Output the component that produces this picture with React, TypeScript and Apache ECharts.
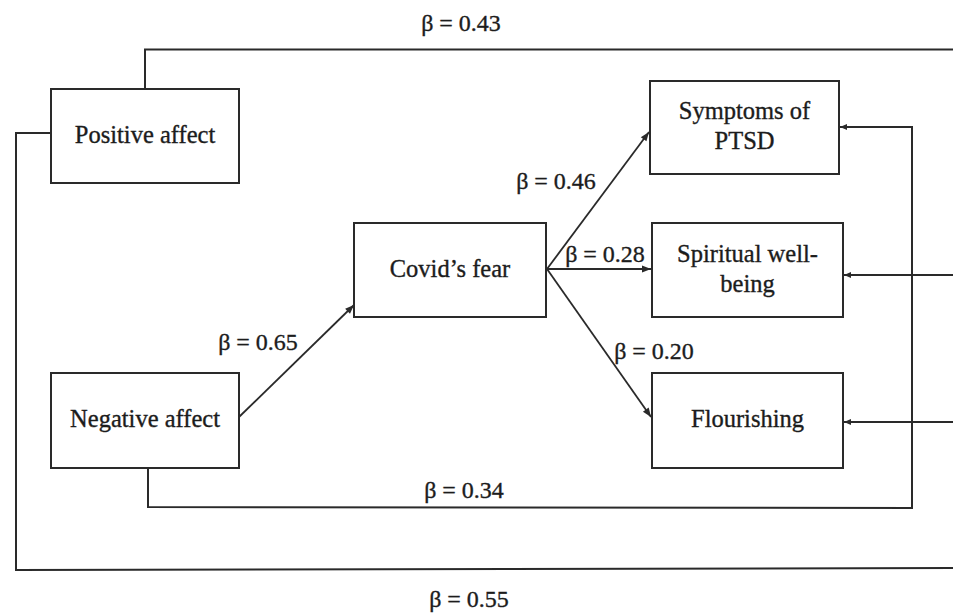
import React, { useEffect, useRef } from "react";
import * as echarts from "echarts";

// Node labels (the variables of the path model)
const nodeLabels = [
  "Positive affect",
  "Negative affect",
  "Covid\u2019s fear",
  "Symptoms of\nPTSD",
  "Spiritual well-\nbeing",
  "Flourishing",
];
// Standardised path coefficients
const betaValues = ["0.43", "0.55", "0.65", "0.46", "0.28", "0.20", "0.34"];

// Layout (positions only)
const boxes: [number, number, number, number][] = [
  [51, 89, 188, 94],
  [51, 373, 188, 95],
  [354, 223, 192, 94],
  [650, 81, 189, 93],
  [652, 223, 191, 94],
  [652, 373, 191, 95],
];
const betaPos: [number, number][] = [
  [461, 23],
  [469, 599],
  [258, 342],
  [556, 181],
  [605, 254],
  [654, 351],
  [464, 490],
];

const INK = "#2a2a2a";
const FONT = "Liberation Serif";

function arrowHead(x1: number, y1: number, x2: number, y2: number, len = 9, half = 3.5) {
  const dx = x2 - x1;
  const dy = y2 - y1;
  const d = Math.sqrt(dx * dx + dy * dy);
  const ux = dx / d;
  const uy = dy / d;
  const bx = x2 - ux * len;
  const by = y2 - uy * len;
  return {
    type: "polygon",
    shape: {
      points: [
        [x2, y2],
        [bx - uy * half, by + ux * half],
        [bx + uy * half, by - ux * half],
      ],
    },
    style: { fill: INK },
  };
}

export default function App() {
  const ref = useRef<HTMLDivElement>(null);
  useEffect(() => {
    if (!ref.current) return;
    const chart = echarts.init(ref.current, null, { renderer: "svg" });
    const els: any[] = [];

    boxes.forEach((b, i) => {
      els.push({
        type: "rect",
        shape: { x: b[0], y: b[1], width: b[2], height: b[3] },
        style: { fill: "#fff", stroke: INK, lineWidth: 2 },
      });
      els.push({
        type: "text",
        x: b[0] + b[2] / 2,
        y: b[1] + b[3] / 2 - 2,
        style: {
          text: nodeLabels[i],
          fill: "#1c1c1c",
          stroke: "#1c1c1c",
          lineWidth: 0.35,
          font: `24.5px "${FONT}"`,
          align: "center",
          verticalAlign: "middle",
          lineHeight: 30,
        },
      });
    });

    const polylines: [number, number][][] = [
      [[145, 89], [145, 49.5], [953, 49.5]],
      [[51, 133], [16, 133], [16, 570], [953, 568]],
      [[148, 468], [148, 507], [912, 508], [912, 127], [840, 127]],
    ];
    polylines.forEach((pts) =>
      els.push({
        type: "polyline",
        shape: { points: pts },
        style: { stroke: INK, lineWidth: 2, fill: null },
      })
    );
    els.push(arrowHead(912, 127, 840, 127, 7, 3));

    const arrows: [number, number, number, number][] = [
      [239, 417, 354, 305],
      [547, 269, 649, 132],
      [547, 269, 651, 269],
      [547, 269, 651, 417],
      [953, 275, 844, 275],
      [953, 422, 844, 422],
    ];
    arrows.forEach(([x1, y1, x2, y2], i) => {
      els.push({
        type: "line",
        shape: { x1, y1, x2, y2 },
        style: { stroke: INK, lineWidth: 1.8 },
      });
      els.push(i >= 4 ? arrowHead(x1, y1, x2, y2, 7, 3) : arrowHead(x1, y1, x2, y2));
    });

    betaValues.forEach((v, i) => {
      els.push({
        type: "text",
        x: betaPos[i][0],
        y: betaPos[i][1],
        style: {
          text: `\u03b2 = ${v}`,
          fill: "#1c1c1c",
          stroke: "#1c1c1c",
          lineWidth: 0.35,
          font: `24px "${FONT}"`,
          align: "center",
          verticalAlign: "middle",
        },
      });
    });

    chart.setOption({
      animation: false,
      backgroundColor: "#fff",
      graphic: { elements: els },
    });
    return () => chart.dispose();
  }, []);
  return (
    <div
      ref={ref}
      style={{ position: "fixed", left: 0, top: 0, width: 953, height: 613 }}
    />
  );
}
